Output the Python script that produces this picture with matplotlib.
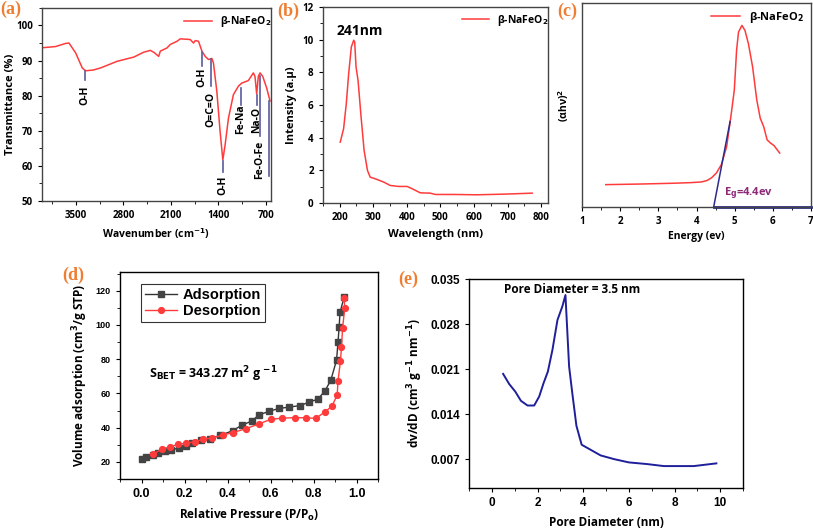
import numpy as np
import matplotlib.pyplot as plt
from matplotlib.ticker import MultipleLocator

# ---------------- data ----------------
# (a) FTIR
ftir_wn = [3975, 3800, 3652, 3603, 3505, 3407, 3358, 3250, 3138, 2893, 2648, 2501, 2403,
           2355, 2281, 2257, 2159, 2110, 2011, 1963, 1816, 1768, 1742, 1694, 1644, 1596,
           1547, 1497, 1474, 1424, 1376, 1336, 1302, 1253, 1180, 1107, 1057, 960, 886,
           862, 837, 813, 788, 748, 690, 640]
ftir_t = [93.7, 94.0, 94.9, 95.0, 92.2, 87.9, 87.1, 87.3, 87.9, 89.8, 91.0, 92.4, 92.9,
          92.4, 91.2, 92.7, 93.6, 94.6, 95.5, 96.2, 96.0, 95.0, 95.7, 95.5, 92.7, 91.2,
          90.3, 90.6, 89.3, 81.2, 69.8, 61.7, 66.0, 73.6, 80.3, 82.7, 83.6, 84.3, 86.5,
          85.5, 80.5, 85.5, 86.5, 85.5, 82.2, 78.5]
# band labels: name, wavenumber, line top, line bottom, label centre
band_names = ['O-H', 'O-H', 'O=C=O', 'O-H', 'Fe-Na', 'Na-O', 'Fe-O-Fe']
band_x = [3368, 1644, 1507, 1336, 1067, 837, 788]
band_top = [87.0, 92.5, 90.5, 61.5, 82.2, 80.3, 85.5]
band_bot = [84.6, 88.4, 82.7, 58.4, 77.4, 77.4, 68.4]
band_lab = [80.2, 85.2, 76.0, 54.4, 73.4, 73.0, 61.8]

# (b) UV-vis
uv_wl = [202, 212, 220, 227, 235, 242, 245, 249, 255, 264, 273, 283, 291, 306, 331,
         351, 376, 401, 416, 440, 470, 485, 540, 609, 689, 773]
uv_int = [3.73, 4.55, 6.08, 7.9, 9.55, 9.96, 9.86, 8.33, 7.5, 5.27, 3.22, 2.0, 1.59,
          1.49, 1.29, 1.08, 1.02, 1.02, 0.88, 0.63, 0.61, 0.53, 0.53, 0.51, 0.55, 0.61]

# (c) Tauc plot
tauc_e = [1.62, 2.53, 3.42, 3.86, 4.12, 4.27, 4.39, 4.52, 4.65, 4.79, 4.90, 4.99, 5.05,
          5.10, 5.19, 5.27, 5.36, 5.47, 5.58, 5.67, 5.76, 5.85, 5.94, 6.03, 6.18]
tauc_y = [0.109, 0.112, 0.116, 0.119, 0.122, 0.129, 0.142, 0.166, 0.207, 0.296, 0.443,
          0.573, 0.769, 0.858, 0.891, 0.866, 0.801, 0.687, 0.524, 0.435, 0.394, 0.329,
          0.313, 0.301, 0.264]
fit_e = [4.45, 4.88]
fit_y = [0.0, 0.419]
base_e = [4.45, 7.0]
base_y = [0.0, 0.0]

# (d) BET isotherm
ads_p = [0.0, 0.023, 0.053, 0.078, 0.107, 0.139, 0.174, 0.206, 0.237, 0.276, 0.319,
         0.366, 0.424, 0.467, 0.512, 0.546, 0.594, 0.639, 0.685, 0.738, 0.779, 0.821,
         0.854, 0.880, 0.907, 0.914, 0.919, 0.923, 0.942]
ads_v = [21.6, 22.7, 23.9, 25.4, 26.4, 26.8, 28.3, 29.3, 30.9, 32.6, 33.6, 35.5, 38.2,
         41.5, 43.8, 47.4, 49.6, 51.2, 52.0, 52.9, 54.9, 56.7, 61.7, 67.6, 79.4, 90.2,
         98.7, 107.3, 116.1]
des_p = [0.055, 0.093, 0.131, 0.171, 0.206, 0.248, 0.287, 0.33, 0.377, 0.424, 0.486,
         0.548, 0.600, 0.654, 0.712, 0.766, 0.810, 0.852, 0.886, 0.910, 0.914, 0.925,
         0.930, 0.935, 0.945, 0.942]
des_v = [24.5, 27.4, 28.7, 30.3, 30.9, 31.8, 33.2, 34.0, 35.7, 37.1, 39.4, 42.3, 44.8,
         45.6, 45.8, 45.8, 45.4, 49.1, 52.6, 59.1, 67.5, 78.7, 86.9, 98.1, 109.7, 116.0]

# (e) pore size distribution
pore_d = [0.49, 0.76, 1.02, 1.27, 1.56, 1.85, 2.07, 2.26, 2.45, 2.65, 2.87, 3.09, 3.22,
          3.38, 3.52, 3.70, 3.93, 4.32, 4.76, 5.34, 6.0, 6.8, 7.53, 8.84, 9.83]
pore_dv = [0.02025, 0.01865, 0.01751, 0.01606, 0.01533, 0.01533, 0.01673, 0.0188,
           0.02061, 0.02398, 0.02863, 0.03081, 0.03252, 0.02139, 0.01725, 0.01218,
           0.00923, 0.00845, 0.00757, 0.0070, 0.00648, 0.00622, 0.00591, 0.00591,
           0.00633]

# ---------------- style ----------------
LAB = 'Open Sans'
ARL = 'Liberation Sans'
ORANGE = '#ef7d32'
RED = '#ff3b3b'
BLUE = '#5a5c9c'

fig = plt.figure(figsize=(8.13, 5.29), dpi=100)


def panel_letter(x, y, s):
    fig.text(x, y, s, fontsize=13, fontweight='bold', color=ORANGE,
             family='Liberation Serif', ha='left', va='top')


def style_ax(ax, tick_fs=7, family=LAB, weight='bold', edge='#444444'):
    for sp in ax.spines.values():
        sp.set_color(edge)
        sp.set_linewidth(1.0)
    ax.tick_params(which='major', direction='out', length=3, width=0.8,
                   labelsize=tick_fs, colors='black')
    ax.tick_params(which='minor', direction='out', length=2, width=0.6)
    for lab in ax.get_xticklabels() + ax.get_yticklabels():
        lab.set_family(family)
        lab.set_fontweight(weight)


# ---- (a) ----
ax = fig.add_axes([0.0517, 0.620, 0.2813, 0.365])
ax.plot(ftir_wn, ftir_t, color=RED, lw=1.1, label=r'β-NaFeO$_\mathbf{2}$')
for name, x, yt, yb, yl in zip(band_names, band_x, band_top, band_bot, band_lab):
    ax.plot([x, x], [yt, yb], color=BLUE, lw=1.2)
    ax.text(x, yl, name, rotation=90, ha='center', va='center', fontsize=7.5,
            family=LAB, fontweight='bold')
ax.plot([661, 661], [78.5, 57.0], color=BLUE, lw=1.2)
ax.set_xlim(4000, 630)
ax.set_ylim(50, 105)
ax.set_xticks([3500, 2800, 2100, 1400, 700])
ax.xaxis.set_minor_locator(MultipleLocator(350))
ax.set_yticks([50, 60, 70, 80, 90, 100])
ax.yaxis.set_minor_locator(MultipleLocator(5))
ax.set_xlabel(r'Wavenumber (cm$^{\mathbf{-1}}$)', fontsize=7.5, family=LAB,
              fontweight='bold', labelpad=4)
ax.set_ylabel('Transmittance (%)', fontsize=8, family=LAB, fontweight='bold')
ax.yaxis.set_label_coords(-0.115, 0.5)
ax.legend(loc='upper right', frameon=False, prop={'family': LAB, 'size': 7.5,
          'weight': 'bold'}, handlelength=2.6, borderaxespad=0.2,
          bbox_to_anchor=(1.03, 1.0))
style_ax(ax)
panel_letter(0.0, 0.998, '(a)')

# ---- (b) ----
ax = fig.add_axes([0.397, 0.616, 0.277, 0.371])
ax.plot(uv_wl, uv_int, color=RED, lw=1.1, label=r'β-NaFeO$_\mathbf{2}$')
ax.text(261, 10.5, '241nm', ha='center', va='center', fontsize=10, family=LAB,
        fontweight='bold')
ax.set_xlim(150, 820)
ax.set_ylim(0, 12)
ax.set_xticks(range(200, 801, 100))
ax.xaxis.set_minor_locator(MultipleLocator(50))
ax.set_yticks(range(0, 13, 2))
ax.yaxis.set_minor_locator(MultipleLocator(1))
ax.set_xlabel('Wavelength (nm)', fontsize=8, family=LAB, fontweight='bold',
              labelpad=4)
ax.set_ylabel('Intensity (a.μ)', fontsize=8, family=LAB, fontweight='bold',
              labelpad=4)
ax.legend(loc='upper right', frameon=False, prop={'family': LAB, 'size': 7.5,
          'weight': 'bold'}, handlelength=2.6, borderaxespad=0.2,
          bbox_to_anchor=(1.03, 1.0))
style_ax(ax)
panel_letter(0.341, 0.995, '(b)')

# ---- (c) ----
ax = fig.add_axes([0.716, 0.609, 0.2815, 0.385])
ax.plot(tauc_e, tauc_y, color=RED, lw=1.1, label=r'β-NaFeO$_\mathbf{2}$')
ax.plot(fit_e, fit_y, color='#2b2b8c', lw=1.1)
ax.plot(base_e, base_y, color='#2b2b8c', lw=2.0, clip_on=False)
ax.text(4.72, 0.065, r'E$_\mathbf{g}$=4.4ev', ha='left', va='center', fontsize=8,
        color='#8c2a78', family=LAB, fontweight='bold')
ax.set_xlim(1, 7)
ax.set_ylim(0, 1.0)
ax.set_xticks(range(1, 8))
ax.xaxis.set_minor_locator(MultipleLocator(0.5))
ax.set_yticks([])
ax.set_xlabel('Energy (ev)', fontsize=7.5, family=LAB, fontweight='bold',
              labelpad=3)
ax.set_ylabel(r'(αhν)$^\mathbf{2}$', fontsize=7.5, family=LAB, fontweight='bold',
              labelpad=8)
ax.legend(loc='upper right', frameon=False, prop={'family': LAB, 'size': 8,
          'weight': 'bold'}, handlelength=2.6, borderaxespad=0.2,
          bbox_to_anchor=(1.0, 1.0))
style_ax(ax)
panel_letter(0.685, 0.995, '(c)')

# ---- (d) ----
ax = fig.add_axes([0.1476, 0.0945, 0.3174, 0.3915])
ax.plot(ads_p, ads_v, color='#333333', lw=1.0, marker='s', ms=3.8,
        mfc='#444444', mec='#444444', label='Adsorption')
ax.plot(des_p, des_v, color=RED, lw=1.0, marker='o', ms=4.2,
        mfc=RED, mec=RED, label='Desorption')
ax.text(0.034, 71.5, r'S$_{\mathbf{BET}}$ = 343.27 m$^\mathbf{2}$ g $^{\mathbf{-1}}$',
        ha='left', va='center', fontsize=9, family=LAB, fontweight='bold')
ax.set_xlim(-0.1, 1.1)
ax.set_ylim(10, 131)
ax.set_xticks([0.0, 0.2, 0.4, 0.6, 0.8, 1.0])
ax.xaxis.set_minor_locator(MultipleLocator(0.1))
ax.set_yticks([20, 40, 60, 80, 100, 120])
ax.yaxis.set_minor_locator(MultipleLocator(10))
ax.set_xlabel(r'Relative Pressure (P/P$_\mathbf{o}$)', fontsize=8.5, family=LAB,
              fontweight='bold', labelpad=5)
ax.set_ylabel(r'Volume adsorption (cm$^\mathbf{3}$/g STP)', fontsize=8.5, family=LAB,
              fontweight='bold', labelpad=4)
leg = ax.legend(loc='upper left', frameon=True, fancybox=False,
                prop={'family': ARL, 'size': 10.5, 'weight': 'bold'},
                handlelength=2.2, borderpad=0.25, labelspacing=0.15,
                handletextpad=0.4, bbox_to_anchor=(0.055, 0.975))
leg.get_frame().set_edgecolor('black')
leg.get_frame().set_linewidth(0.8)
style_ax(ax, tick_fs=6.5, family=ARL, weight='bold', edge='black')
for lab in ax.get_xticklabels():
    lab.set_fontsize(9)
panel_letter(0.077, 0.495, '(d)')

# ---- (e) ----
ax = fig.add_axes([0.577, 0.0775, 0.337, 0.395])
ax.plot(pore_d, pore_dv, color='#1f1f9a', lw=1.4)
ax.text(0.54, 0.0333, 'Pore Diameter = 3.5 nm', ha='left', va='center', fontsize=8.5,
        family=LAB, fontweight='bold')
ax.set_xlim(-1, 11)
ax.set_ylim(0.0025, 0.035)
ax.set_xticks([0, 2, 4, 6, 8, 10])
ax.xaxis.set_minor_locator(MultipleLocator(1))
ax.set_yticks([0.007, 0.014, 0.021, 0.028, 0.035])
ax.set_yticklabels(['0.007', '0.014', '0.021', '0.028', '0.035'])
ax.set_xlabel('Pore Diameter (nm)', fontsize=8.5, family=LAB, fontweight='bold',
              labelpad=5)
ax.set_ylabel(r'dv/dD (cm$^\mathbf{3}$ g$^{\mathbf{-1}}$ nm$^{\mathbf{-1}}$)', fontsize=8.5,
              family=LAB, fontweight='bold', labelpad=4)
style_ax(ax, tick_fs=8.5, family=ARL, weight='bold', edge='black')
panel_letter(0.490, 0.488, '(e)')

fig.savefig('out.png', dpi=100)
